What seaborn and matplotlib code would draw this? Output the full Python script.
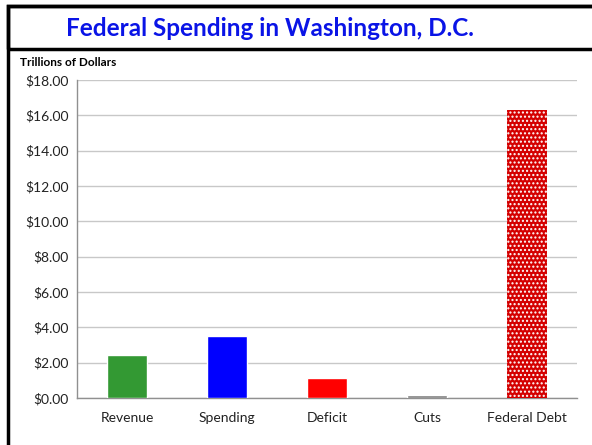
import matplotlib
matplotlib.use("Agg")
import matplotlib.pyplot as plt
import seaborn as sns
from matplotlib.patches import Rectangle
from matplotlib.ticker import FuncFormatter

categories = ["Revenue", "Spending", "Deficit", "Cuts", "Federal Debt"]
values = [2.45, 3.52, 1.12, 0.15, 16.3]
colors = ["#339933", "#0000FF", "#FF0000", "#7F7F7F", "#D40000"]

sns.set_style("white")
plt.rcParams["font.family"] = ["Lato", "DejaVu Sans"]
plt.rcParams["hatch.linewidth"] = 1.0

fig = plt.figure(figsize=(5.92, 4.45), dpi=100)
ax = fig.add_axes([77 / 592, 1 - 398 / 445, 500 / 592, 318 / 445])

sns.barplot(x=categories, y=values, hue=categories, palette=colors,
            width=0.4, saturation=1, legend=False, ax=ax, zorder=3)

# federal debt bar gets the dotted fill
debt = ax.patches[-1]
debt.set_hatch("....")
debt.set_edgecolor("white")
debt.set_linewidth(0)

ax.set_ylim(0, 18)
ax.set_xlim(-0.5, 4.5)
ax.set_yticks(range(0, 19, 2))
ax.yaxis.set_major_formatter(FuncFormatter(lambda v, p: f"${v:.2f}"))
ax.grid(axis="y", color="#C8C8C8", linewidth=1, zorder=0)
ax.set_xlabel("")
ax.set_ylabel("")
ax.tick_params(axis="y", length=0, labelsize=10, pad=6, colors="#222222")
ax.tick_params(axis="x", length=0, labelsize=10, pad=10, colors="#222222")
ax.set_xticks([i - 0.5 for i in range(6)], minor=True)
ax.tick_params(axis="x", which="minor", length=5, color="#909090", width=1)
for s in ["top", "right"]:
    ax.spines[s].set_visible(False)
for s in ["left", "bottom"]:
    ax.spines[s].set_color("#909090")
    ax.spines[s].set_linewidth(1)
    ax.spines[s].set_zorder(2)

# outer border and title box
fig.patches.append(Rectangle((8 / 592, -0.01), 1.0, 1 - 6 / 445 + 0.01,
                             transform=fig.transFigure, fill=False,
                             edgecolor="black", linewidth=2.5))
fig.patches.append(Rectangle((8 / 592, 1 - 49 / 445), 1.0, 43 / 445,
                             transform=fig.transFigure, fill=False,
                             edgecolor="black", linewidth=2.5))
fig.text(270 / 592, 1 - 28 / 445, "Federal Spending in Washington, D.C.",
         ha="center", va="center", fontsize=17.5, fontweight="bold",
         color="#0A14E6")
fig.text(20 / 592, 1 - 63 / 445, "Trillions of Dollars", ha="left",
         va="center", fontsize=8.5, fontweight="bold", color="black")

fig.savefig("out.png", dpi=100)
